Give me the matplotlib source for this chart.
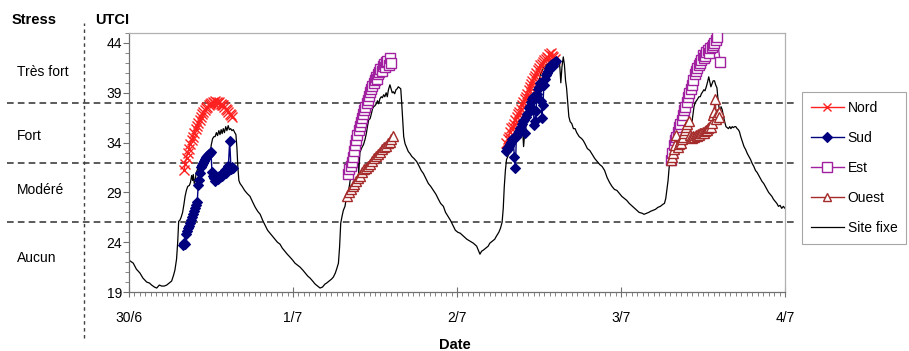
import numpy as np
import matplotlib
matplotlib.use("Agg")
import matplotlib.pyplot as plt
from matplotlib.ticker import MultipleLocator, FixedLocator

plt.rcParams['font.family'] = ['Liberation Sans', 'DejaVu Sans']

# ---------------------------------------------------------------
# Data (time in days since 30/6 00:00, UTCI in degC)
# ---------------------------------------------------------------
day_ticks = [0, 1, 2, 3, 4]
day_labels = ['30/6', '1/7', '2/7', '3/7', '4/7']
utci_ticks = [19, 24, 29, 34, 39, 44]

stress_limits = [26, 32, 38]
stress_labels = ['Aucun', 'Modéré', 'Fort', 'Très fort']

site_fixe = [
    (0.000, 22.2), (0.026, 21.9), (0.045, 21.3), (0.067, 20.9), (0.085, 20.4), (0.108, 20.0),
    (0.125, 19.9), (0.138, 19.7), (0.155, 19.5), (0.169, 19.4), (0.185, 19.7), (0.199, 19.6),
    (0.215, 19.6), (0.230, 19.7), (0.245, 19.9), (0.260, 20.1), (0.272, 20.7), (0.280, 21.2),
    (0.290, 22.3), (0.297, 24.0), (0.303, 26.1), (0.310, 26.2), (0.318, 26.5), (0.327, 27.0),
    (0.335, 27.8), (0.342, 28.6), (0.350, 29.2), (0.358, 29.6), (0.368, 29.7), (0.375, 30.0),
    (0.382, 30.7), (0.388, 30.2), (0.392, 30.8), (0.398, 29.9), (0.404, 30.3), (0.410, 31.0),
    (0.418, 31.3), (0.425, 31.4), (0.432, 31.9), (0.440, 32.0), (0.448, 32.2), (0.455, 32.1),
    (0.462, 32.4), (0.470, 32.3), (0.478, 32.6), (0.486, 32.5), (0.494, 32.9), (0.502, 33.8),
    (0.510, 34.4), (0.518, 34.6), (0.525, 34.6), (0.533, 35.0), (0.540, 34.7), (0.548, 35.2),
    (0.555, 34.8), (0.562, 35.3), (0.568, 34.9), (0.575, 35.4), (0.582, 35.0), (0.590, 35.6),
    (0.597, 35.2), (0.605, 35.7), (0.612, 35.3), (0.620, 35.4), (0.628, 35.2), (0.636, 35.3),
    (0.645, 35.0), (0.652, 34.8), (0.658, 33.5), (0.664, 31.5), (0.670, 30.2), (0.677, 29.9),
    (0.690, 29.6), (0.705, 29.2), (0.720, 28.9), (0.738, 28.6), (0.755, 28.0), (0.770, 27.5),
    (0.785, 27.1), (0.800, 26.8), (0.815, 26.2), (0.830, 25.7), (0.845, 25.2), (0.860, 24.9),
    (0.875, 24.6), (0.890, 24.3), (0.905, 24.0), (0.921, 23.8), (0.935, 23.4), (0.950, 23.1),
    (0.965, 22.8), (0.982, 22.5), (0.998, 22.2), (1.012, 21.9), (1.028, 21.7), (1.043, 21.5),
    (1.060, 21.2), (1.075, 20.9), (1.090, 20.6), (1.104, 20.4), (1.120, 20.1), (1.135, 19.8),
    (1.150, 19.6), (1.165, 19.4), (1.180, 19.5), (1.195, 19.8), (1.205, 19.9), (1.220, 20.1),
    (1.235, 20.3), (1.246, 20.5), (1.258, 20.9), (1.268, 21.4), (1.277, 21.9), (1.284, 23.5),
    (1.291, 25.9), (1.299, 26.6), (1.307, 27.2), (1.317, 27.6), (1.327, 28.6), (1.337, 29.0),
    (1.345, 29.8), (1.352, 30.6), (1.358, 31.2), (1.365, 31.8), (1.372, 32.2), (1.380, 32.4),
    (1.388, 32.6), (1.396, 32.3), (1.401, 30.9), (1.408, 33.0), (1.415, 33.3), (1.423, 33.6),
    (1.430, 33.8), (1.439, 34.3), (1.447, 34.9), (1.455, 35.7), (1.462, 36.3), (1.470, 36.4),
    (1.478, 36.9), (1.485, 37.4), (1.492, 37.6), (1.500, 37.7), (1.508, 37.9), (1.515, 38.2),
    (1.522, 37.9), (1.530, 38.4), (1.538, 38.6), (1.545, 38.5), (1.553, 38.8), (1.560, 38.6),
    (1.568, 39.0), (1.575, 38.6), (1.582, 39.3), (1.591, 39.8), (1.598, 39.4), (1.605, 39.0),
    (1.612, 39.1), (1.620, 38.9), (1.628, 39.3), (1.635, 39.4), (1.642, 39.6), (1.650, 39.5),
    (1.657, 39.4), (1.662, 38.2), (1.668, 36.5), (1.675, 34.6), (1.683, 33.9), (1.693, 33.5),
    (1.703, 33.1), (1.713, 32.9), (1.725, 32.6), (1.738, 32.4), (1.754, 32.1), (1.770, 31.6),
    (1.782, 31.2), (1.795, 30.9), (1.810, 30.4), (1.825, 29.9), (1.840, 29.6), (1.856, 29.2),
    (1.872, 28.8), (1.887, 28.3), (1.900, 27.9), (1.917, 27.6), (1.930, 27.0), (1.945, 26.6),
    (1.960, 26.2), (1.978, 25.6), (1.990, 25.2), (2.005, 25.0), (2.020, 24.9), (2.040, 24.6),
    (2.060, 24.3), (2.080, 24.1), (2.100, 23.9), (2.120, 23.6), (2.130, 23.2), (2.140, 22.8),
    (2.150, 23.1), (2.160, 23.2), (2.175, 23.4), (2.190, 23.6), (2.200, 23.9), (2.215, 24.1),
    (2.230, 24.3), (2.240, 24.6), (2.255, 25.0), (2.265, 25.4), (2.275, 26.0), (2.282, 27.4),
    (2.288, 29.5), (2.295, 31.2), (2.302, 32.3), (2.310, 32.6), (2.318, 33.0), (2.326, 33.1),
    (2.333, 33.4), (2.340, 33.8), (2.348, 34.5), (2.356, 34.7), (2.365, 35.1), (2.373, 35.3),
    (2.380, 35.4), (2.387, 34.6), (2.393, 35.0), (2.400, 35.3), (2.406, 33.6), (2.412, 34.8),
    (2.418, 35.3), (2.425, 36.2), (2.432, 37.0), (2.440, 37.3), (2.448, 37.9), (2.456, 38.0),
    (2.465, 38.6), (2.473, 39.2), (2.480, 39.6), (2.490, 39.9), (2.500, 40.3), (2.510, 40.9),
    (2.520, 41.2), (2.530, 41.6), (2.540, 41.7), (2.550, 41.9), (2.560, 41.8), (2.570, 42.0),
    (2.580, 42.0), (2.590, 42.2), (2.600, 41.9), (2.610, 42.3), (2.620, 42.3), (2.627, 41.6),
    (2.633, 40.0), (2.640, 41.6), (2.648, 42.6), (2.655, 41.8), (2.662, 40.2), (2.668, 39.5),
    (2.675, 38.1), (2.682, 36.6), (2.690, 36.1), (2.700, 35.9), (2.710, 35.4), (2.720, 35.4),
    (2.730, 35.0), (2.745, 34.6), (2.760, 34.4), (2.770, 34.2), (2.780, 33.9), (2.795, 33.4),
    (2.810, 33.2), (2.825, 32.8), (2.840, 32.4), (2.855, 32.1), (2.870, 31.8), (2.885, 31.6),
    (2.900, 31.2), (2.915, 30.5), (2.930, 30.0), (2.945, 29.6), (2.960, 29.3), (2.975, 29.2),
    (2.990, 28.9), (3.005, 28.6), (3.020, 28.4), (3.035, 28.2), (3.050, 27.9), (3.070, 27.6),
    (3.090, 27.3), (3.110, 27.0), (3.130, 26.9), (3.140, 26.8), (3.155, 26.9), (3.170, 27.0),
    (3.180, 27.1), (3.195, 27.2), (3.210, 27.3), (3.225, 27.5), (3.240, 27.6), (3.255, 27.8),
    (3.265, 27.9), (3.273, 28.4), (3.280, 29.3), (3.287, 30.2), (3.293, 31.4), (3.300, 32.4),
    (3.310, 33.0), (3.318, 33.8), (3.326, 34.3), (3.334, 34.6), (3.342, 35.0), (3.350, 35.1),
    (3.360, 35.4), (3.370, 35.6), (3.380, 35.6), (3.390, 35.9), (3.400, 36.1), (3.410, 36.4),
    (3.415, 35.9), (3.422, 35.1), (3.430, 35.6), (3.437, 36.6), (3.445, 37.6), (3.452, 38.0),
    (3.460, 38.2), (3.468, 38.4), (3.475, 38.6), (3.483, 38.6), (3.490, 38.9), (3.498, 39.1),
    (3.505, 39.3), (3.512, 39.2), (3.520, 39.6), (3.528, 40.1), (3.535, 40.6), (3.540, 40.2),
    (3.548, 39.6), (3.555, 39.9), (3.562, 40.2), (3.570, 40.2), (3.577, 39.8), (3.585, 39.5),
    (3.590, 38.6), (3.597, 37.6), (3.603, 37.1), (3.610, 37.6), (3.617, 37.3), (3.625, 36.6),
    (3.632, 36.1), (3.640, 35.6), (3.648, 35.5), (3.655, 35.4), (3.663, 35.6), (3.670, 35.4),
    (3.678, 35.6), (3.685, 35.5), (3.693, 35.6), (3.700, 35.6), (3.708, 35.4), (3.715, 35.3),
    (3.722, 35.1), (3.730, 34.6), (3.740, 34.1), (3.750, 33.6), (3.760, 33.3), (3.770, 32.9),
    (3.780, 32.6), (3.790, 32.3), (3.800, 31.9), (3.810, 31.6), (3.820, 31.2), (3.830, 31.0),
    (3.840, 30.7), (3.850, 30.4), (3.860, 30.1), (3.870, 29.9), (3.880, 29.6), (3.890, 29.3),
    (3.900, 29.0), (3.910, 28.8), (3.920, 28.6), (3.930, 28.3), (3.940, 28.1), (3.950, 27.9),
    (3.960, 27.6), (3.970, 27.7), (3.980, 27.4), (3.990, 27.6), (4.000, 27.4),
]

# mobile measurements, one run per measuring day
nord_runs = [
    [(0.335, 31.2), (0.343, 31.9), (0.351, 32.5), (0.358, 33.0), (0.366, 33.4), (0.374, 33.9),
     (0.382, 34.3), (0.390, 34.6), (0.398, 35.0), (0.406, 35.4), (0.414, 35.7), (0.422, 36.0),
     (0.430, 36.3), (0.438, 36.6), (0.446, 36.9), (0.454, 37.1), (0.462, 37.3), (0.470, 37.5),
     (0.478, 37.6), (0.486, 37.8), (0.494, 37.9), (0.502, 38.0), (0.510, 38.1), (0.518, 38.0),
     (0.526, 38.2), (0.534, 38.1), (0.542, 38.0), (0.550, 38.1), (0.558, 37.9), (0.566, 37.8),
     (0.574, 37.8), (0.582, 37.6), (0.590, 37.4), (0.598, 37.3), (0.606, 37.1), (0.614, 36.9),
     (0.622, 36.8), (0.630, 36.6)],
    [(2.300, 34.0), (2.308, 34.4), (2.316, 34.6), (2.324, 35.1), (2.332, 35.5), (2.340, 35.6),
     (2.348, 35.9), (2.356, 36.3), (2.364, 36.6), (2.372, 36.9), (2.380, 37.1), (2.388, 37.4),
     (2.396, 37.8), (2.404, 38.1), (2.412, 38.4), (2.420, 38.6), (2.428, 38.9), (2.436, 39.3),
     (2.444, 39.6), (2.452, 39.9), (2.460, 40.2), (2.468, 40.5), (2.476, 40.7), (2.484, 41.0),
     (2.492, 41.3), (2.500, 41.5), (2.508, 41.8), (2.516, 41.9), (2.524, 42.1), (2.532, 42.3),
     (2.540, 42.4), (2.548, 42.6), (2.556, 42.5), (2.564, 42.9), (2.572, 43.0), (2.580, 42.7),
     (2.588, 42.6), (2.596, 42.4)],
]

sud_runs = [
    [(0.331, 23.7), (0.337, 23.9), (0.343, 23.8), (0.350, 24.8), (0.356, 25.1), (0.362, 25.4),
     (0.368, 25.6), (0.374, 25.9), (0.380, 26.2), (0.386, 26.5), (0.392, 26.8), (0.398, 27.1),
     (0.404, 27.4), (0.410, 27.7), (0.416, 28.0), (0.422, 29.7), (0.428, 30.2), (0.434, 30.9),
     (0.440, 31.5), (0.446, 31.8), (0.452, 32.0), (0.458, 32.2), (0.464, 32.4), (0.470, 32.6),
     (0.476, 32.7), (0.482, 32.8), (0.488, 32.9), (0.494, 33.0), (0.500, 33.1), (0.506, 31.0),
     (0.512, 30.6), (0.518, 30.4), (0.524, 30.1), (0.530, 30.3), (0.536, 30.5), (0.542, 30.3),
     (0.548, 30.6), (0.554, 30.5), (0.560, 30.7), (0.566, 30.6), (0.572, 30.9), (0.578, 31.0),
     (0.584, 31.2), (0.590, 30.9), (0.596, 31.3), (0.606, 31.6), (0.614, 34.2), (0.622, 31.3),
     (0.630, 31.5), (0.636, 31.4)],
    [(2.300, 33.2), (2.306, 33.5), (2.312, 33.4), (2.318, 33.7), (2.324, 33.9), (2.330, 34.1),
     (2.336, 34.4), (2.342, 34.4), (2.350, 32.6), (2.356, 31.4), (2.362, 34.6), (2.368, 34.8),
     (2.374, 35.0), (2.380, 35.2), (2.386, 35.5), (2.392, 35.4), (2.398, 35.9), (2.404, 36.2),
     (2.410, 36.3), (2.416, 35.0), (2.422, 36.6), (2.428, 36.9), (2.434, 37.0), (2.440, 37.5),
     (2.446, 37.7), (2.452, 38.1), (2.458, 38.4), (2.464, 38.6), (2.470, 35.8), (2.476, 36.2),
     (2.482, 37.2), (2.488, 38.9), (2.494, 39.4), (2.500, 39.6), (2.506, 40.0), (2.512, 38.2),
     (2.518, 36.5), (2.524, 37.8), (2.530, 39.8), (2.536, 40.4), (2.542, 40.8), (2.548, 41.0),
     (2.554, 41.2), (2.560, 41.5), (2.566, 41.6), (2.572, 41.8), (2.578, 41.9), (2.584, 41.7),
     (2.590, 42.0), (2.596, 42.1), (2.602, 42.2)],
]

est_runs = [
    [(1.337, 30.8), (1.344, 31.3), (1.351, 31.6), (1.358, 32.1), (1.365, 32.6), (1.372, 33.2),
     (1.379, 33.8), (1.386, 34.3), (1.393, 34.8), (1.400, 35.3), (1.407, 35.7), (1.414, 36.1),
     (1.421, 36.5), (1.428, 36.9), (1.435, 37.3), (1.442, 37.6), (1.449, 38.0), (1.456, 38.3),
     (1.463, 38.7), (1.470, 39.1), (1.477, 39.4), (1.484, 39.7), (1.491, 40.0), (1.498, 40.3),
     (1.505, 40.6), (1.512, 40.4), (1.519, 40.9), (1.526, 41.1), (1.533, 41.4), (1.540, 41.2),
     (1.547, 41.7), (1.554, 41.9), (1.561, 41.6), (1.568, 42.1), (1.576, 42.2), (1.584, 41.8),
     (1.591, 42.5), (1.600, 42.0)],
    [(3.305, 32.3), (3.313, 33.0), (3.321, 33.8), (3.329, 34.3), (3.337, 34.6), (3.345, 35.1),
     (3.353, 35.6), (3.361, 35.9), (3.369, 36.3), (3.377, 36.8), (3.385, 37.3), (3.393, 37.6),
     (3.401, 38.1), (3.409, 38.6), (3.417, 39.0), (3.425, 39.4), (3.433, 39.8), (3.441, 40.3),
     (3.449, 40.9), (3.457, 41.2), (3.465, 41.5), (3.473, 41.8), (3.481, 42.0), (3.489, 42.3),
     (3.497, 42.8), (3.505, 42.5), (3.513, 42.7), (3.521, 43.1), (3.529, 43.3), (3.537, 43.0),
     (3.545, 43.5), (3.553, 43.6), (3.561, 43.8), (3.569, 44.0), (3.577, 44.3), (3.585, 44.6),
     (3.605, 42.1)],
]

ouest_runs = [
    [(1.327, 28.6), (1.339, 29.0), (1.351, 29.3), (1.363, 29.6), (1.375, 29.8), (1.387, 30.1),
     (1.399, 30.4), (1.411, 30.6), (1.423, 31.0), (1.435, 31.3), (1.447, 31.4), (1.459, 31.7),
     (1.471, 31.9), (1.483, 32.2), (1.495, 32.5), (1.507, 32.7), (1.519, 32.9), (1.531, 33.1),
     (1.543, 33.4), (1.555, 33.6), (1.567, 33.7), (1.579, 34.0), (1.591, 34.1), (1.600, 34.4),
     (1.612, 34.7)],
    [(3.305, 32.3), (3.312, 32.6), (3.318, 33.0), (3.325, 33.4), (3.332, 33.8), (3.338, 34.8),
     (3.345, 33.6), (3.352, 33.9), (3.358, 34.2), (3.365, 34.0), (3.372, 34.4), (3.378, 34.6),
     (3.385, 35.0), (3.392, 35.3), (3.398, 35.6), (3.405, 35.9), (3.412, 36.2), (3.420, 34.8),
     (3.427, 34.6), (3.434, 34.5), (3.441, 34.7), (3.448, 34.6), (3.455, 34.8), (3.462, 34.7),
     (3.469, 34.9), (3.476, 34.8), (3.483, 35.0), (3.490, 35.0), (3.497, 35.1), (3.504, 35.0),
     (3.511, 35.2), (3.518, 35.3), (3.525, 35.3), (3.532, 35.5), (3.539, 35.6), (3.546, 35.6),
     (3.553, 36.0), (3.560, 36.8), (3.567, 37.1), (3.574, 38.4), (3.581, 36.4), (3.588, 36.9),
     (3.595, 37.1), (3.600, 36.6)],
]

# ---------------------------------------------------------------
# Plot
# ---------------------------------------------------------------
fig = plt.figure(figsize=(9.09, 3.51), dpi=100)
ax = fig.add_axes([0.1419, 0.168, 0.7217, 0.738])

styles = {
    'Nord':  dict(color='#FF2020', marker='x', ms=6.5, mew=1.0, mfc='none', lw=1.0),
    'Sud':   dict(color='#00007F', marker='D', ms=5.5, mew=0.8, mfc='#00007F', lw=1.0),
    'Est':   dict(color='#A020A0', marker='s', ms=7.5, mew=1.0, mfc='white', lw=1.0),
    'Ouest': dict(color='#A52A2A', marker='^', ms=7, mew=1.0, mfc='white', lw=1.0),
}
series = [('Nord', nord_runs), ('Sud', sud_runs), ('Est', est_runs), ('Ouest', ouest_runs)]

handles = []
for name, runs in series:
    for i, run in enumerate(runs):
        t, v = zip(*run)
        ln, = ax.plot(t, v, label=name if i == 0 else None, zorder=3, **styles[name])
        if i == 0:
            handles.append(ln)

t_fix, v_fix = zip(*site_fixe)
ln_fix, = ax.plot(t_fix, v_fix, color='black', lw=0.9, label='Site fixe', zorder=2)
handles.append(ln_fix)

# stress thresholds, extending into the left stress column
for lim in stress_limits:
    ax.plot([-0.186, 1.015], [lim, lim], transform=ax.get_yaxis_transform(),
            color='#404040', lw=1.2, ls=(0, (4, 2.5)), clip_on=False, zorder=1)

ax.set_xlim(0, 4)
ax.set_ylim(19, 45)
ax.xaxis.set_major_locator(FixedLocator(day_ticks))
ax.set_xticklabels(day_labels)
ax.xaxis.set_minor_locator(MultipleLocator(1 / 30))
ax.yaxis.set_major_locator(FixedLocator(utci_ticks))
ax.yaxis.set_minor_locator(MultipleLocator(1))

ax.tick_params(axis='x', which='major', direction='inout', length=7, width=0.8,
               color='#707070', pad=10, labelsize=10)
ax.tick_params(axis='x', which='minor', direction='out', length=3, width=0.6, color='#707070')
ax.tick_params(axis='y', which='major', direction='out', length=4, width=0.8,
               color='#707070', pad=1, labelsize=10)
ax.tick_params(axis='y', which='minor', direction='out', length=3, width=0.6, color='#707070')

for side in ['left', 'bottom']:
    ax.spines[side].set_color('#707070')
    ax.spines[side].set_linewidth(0.9)
for side in ['top', 'right']:
    ax.spines[side].set_color('#B0B0B0')
    ax.spines[side].set_linewidth(0.9)

# headers and stress classes
fig.text(0.0132, 0.943, 'Stress', fontsize=10.5, fontweight='bold', va='center')
fig.text(0.1045, 0.943, 'UTCI', fontsize=10.5, fontweight='bold', va='center')
fig.text(0.5006, 0.017, 'Date', fontsize=10.5, fontweight='bold', ha='center', va='center')

stress_y = [0.265, 0.4587, 0.6125, 0.795]
for lab, y in zip(stress_labels, stress_y):
    fig.text(0.0187, y, lab, fontsize=10, va='center')

fig.add_artist(plt.Line2D([0.0924, 0.0924], [0.037, 0.934], transform=fig.transFigure,
                          color='#404040', lw=1.0, ls=(0, (2.5, 2.5))))

leg = fig.legend(handles=handles, loc='upper left', bbox_to_anchor=(0.882, 0.738),
                 borderaxespad=0, fontsize=10, frameon=True, fancybox=False,
                 edgecolor='#909090', handlelength=2.4, handletextpad=0.25,
                 labelspacing=1.15, borderpad=0.65, markerscale=0.9)
leg.get_frame().set_linewidth(0.8)

fig.savefig('out.png', dpi=100)
